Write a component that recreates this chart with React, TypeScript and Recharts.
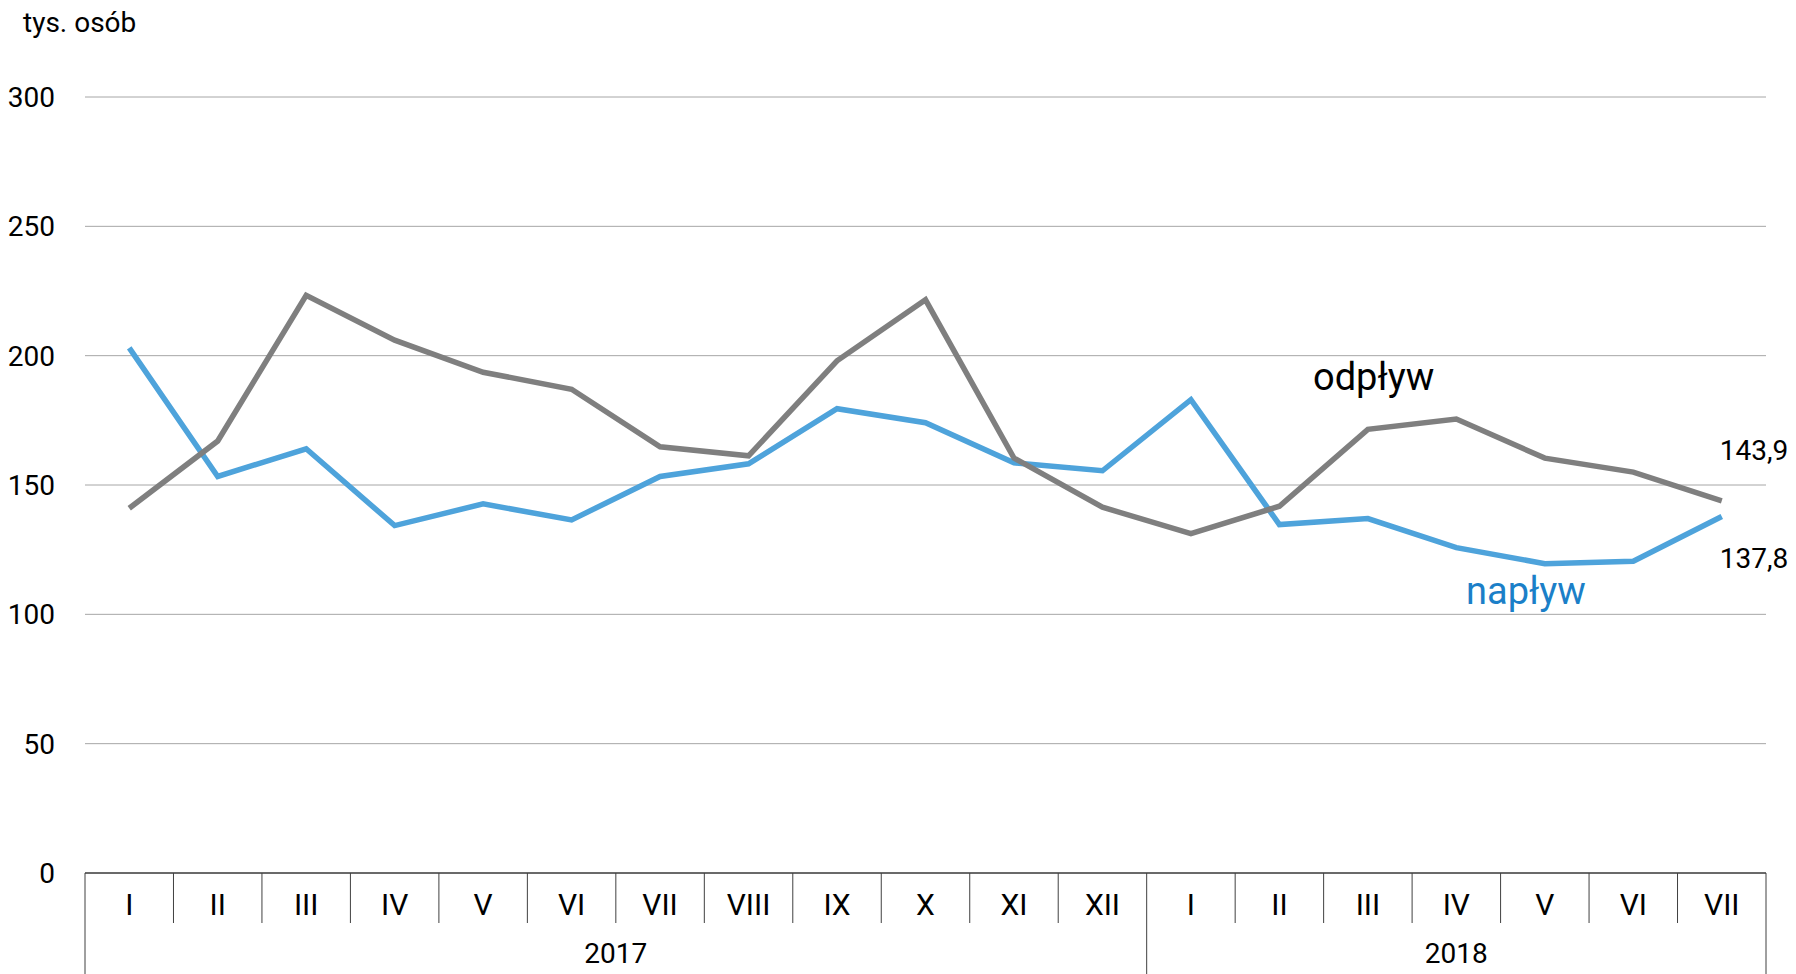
import { CartesianGrid, LabelList, Line, LineChart, XAxis, YAxis } from "recharts";

const months = ["I", "II", "III", "IV", "V", "VI", "VII", "VIII", "IX", "X", "XI", "XII", "I", "II", "III", "IV", "V", "VI", "VII"];
const years = ["2017", "2018"];
const monthsInYear = [12, 7];

const odplyw = [141, 167, 223.3, 206, 193.6, 187, 164.8, 161.3, 198, 221.6, 160.4, 141.4, 131.2, 141.8, 171.5, 175.5, 160.4, 155, 143.9];
const naplyw = [203, 153.3, 164, 134.3, 142.7, 136.5, 153.3, 158.2, 179.5, 174.1, 158.6, 155.5, 183, 134.7, 137, 125.8, 119.6, 120.5, 137.8];

const yTicks = [0, 50, 100, 150, 200, 250, 300];

const data = months.map((m, i) => ({ key: i, month: m, odplyw: odplyw[i], naplyw: naplyw[i] }));

const W = 1796;
const H = 974;
const LEFT = 85;
const RIGHT = 30;
const STEP = (W - LEFT - RIGHT) / months.length;
const FONT = "Roboto, 'Noto Sans', sans-serif";

// index of the first and last month of each year
const yearStarts = monthsInYear.map((_, i) => monthsInYear.slice(0, i).reduce((a, b) => a + b, 0));
const yearEnds = yearStarts.map((s, i) => s + monthsInYear[i] - 1);

const MonthTick = (props: any) => {
  const { x, y, payload } = props;
  const i = payload.index;
  const half = STEP / 2;
  const yi = yearStarts.indexOf(i);
  const isYearEnd = yearEnds.includes(i);
  return (
    <g>
      <text x={x} y={y + 31} textAnchor="middle" dominantBaseline="central" fontSize={30} fontFamily={FONT} fill="#000">
        {months[i]}
      </text>
      {i === 0 && <line x1={x - half} x2={x - half} y1={y} y2={y + 101} stroke="#404040" strokeWidth={1} />}
      <line x1={x + half} x2={x + half} y1={y} y2={isYearEnd ? y + 101 : y + 50} stroke="#404040" strokeWidth={1} />
      {yi >= 0 && (
        <text
          x={x - half + (monthsInYear[yi] * STEP) / 2}
          y={y + 80}
          textAnchor="middle"
          dominantBaseline="central"
          fontSize={28}
          fontFamily={FONT}
          fill="#000"
        >
          {years[yi]}
        </text>
      )}
    </g>
  );
};

const endLabel = (dy: number) => (props: any) => {
  const { x, y, value, index } = props;
  if (index !== months.length - 1) return null;
  return (
    <text x={x - 2} y={y + dy} dominantBaseline="central" fontSize={28} fontFamily={FONT} fill="#000">
      {String(value).replace(".", ",")}
    </text>
  );
};

const txt = (left: number, top: number, size: number, color: string) => ({
  position: "absolute" as const,
  left,
  top: top - size * 0.6,
  fontSize: size,
  lineHeight: "1.2",
  fontFamily: FONT,
  color,
  whiteSpace: "nowrap" as const,
});

export default function App() {
  return (
    <div style={{ position: "absolute", left: 0, top: 0, width: W, height: H, overflow: "hidden", background: "#fff" }}>
      <LineChart width={W} height={H} data={data} margin={{ top: 97, right: RIGHT, left: 0, bottom: 0 }}>
        <CartesianGrid vertical={false} stroke="#a6a6a6" strokeWidth={1} />
        <XAxis
          dataKey="key"
          height={101}
          padding={{ left: STEP / 2, right: STEP / 2 }}
          axisLine={{ stroke: "#000", strokeWidth: 1 }}
          tickLine={false}
          tickSize={0}
          tickMargin={0}
          interval={0}
          tick={<MonthTick />}
        />
        <YAxis
          width={LEFT}
          domain={[0, 300]}
          ticks={yTicks}
          axisLine={false}
          tickLine={false}
          tickMargin={24}
          tick={{ fontSize: 28, fontFamily: FONT, fill: "#000" }}
        />
        <Line
          type="linear"
          dataKey="naplyw"
          stroke="#4ea3db"
          strokeWidth={5.5}
          dot={false}
          isAnimationActive={false}
        >
          <LabelList dataKey="naplyw" content={endLabel(42)} />
        </Line>
        <Line
          type="linear"
          dataKey="odplyw"
          stroke="#7f7f7f"
          strokeWidth={5.5}
          dot={false}
          isAnimationActive={false}
        >
          <LabelList dataKey="odplyw" content={endLabel(-50)} />
        </Line>
      </LineChart>
      <div style={txt(23, 23, 28, "#000")}>tys. osób</div>
      <div style={txt(1313, 378, 38, "#000")}>odpływ</div>
      <div style={txt(1466, 592, 38, "#1b7fc8")}>napływ</div>
    </div>
  );
}
